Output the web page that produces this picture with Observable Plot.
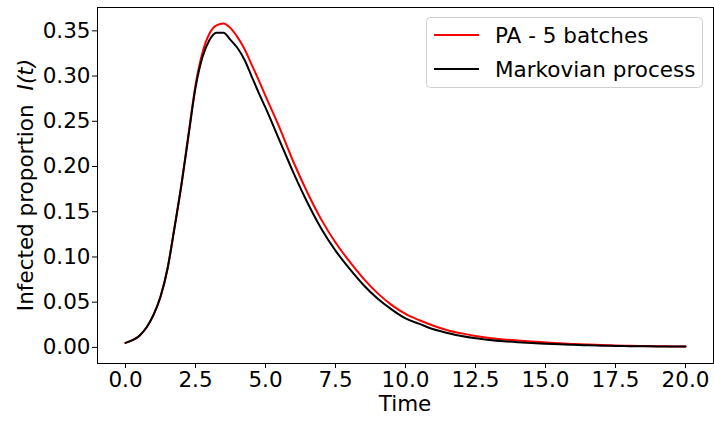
<!DOCTYPE html>
<html>
<head>
<meta charset="utf-8">
<script src="https://cdn.jsdelivr.net/npm/d3@7"></script>
<script src="https://cdn.jsdelivr.net/npm/@observablehq/plot@0.6"></script>
<style>
  html, body { margin: 0; padding: 0; background: #fff; }
  #chart { width: 714px; height: 422px; }
</style>
</head>
<body>
<div id="chart"></div>
<script>
// ---- data ----
const times = [0, 0.25, 0.5, 0.75, 1.0, 1.25, 1.5, 1.75, 2.0, 2.25, 2.5, 2.75, 3.0, 3.25, 3.5, 3.75, 4.0, 4.25, 4.5, 4.75,
  5.0, 5.5, 6.0, 6.5, 7.0, 7.5, 8.0, 8.5, 9.0, 9.5, 10.0, 10.5, 11.0, 11.5, 12.0, 12.5, 13.0, 13.5, 14.0, 14.5,
  15.0, 15.5, 16.0, 16.5, 17.0, 17.5, 18.0, 18.5, 19.0, 19.5, 20.0];
const paValues = [0.005, 0.008, 0.013, 0.022, 0.036, 0.056, 0.087, 0.133, 0.181, 0.236, 0.290, 0.326, 0.347, 0.356, 0.358, 0.353, 0.343, 0.330, 0.313, 0.296,
  0.278, 0.243, 0.205, 0.171, 0.141, 0.116, 0.095, 0.076, 0.060, 0.047, 0.037, 0.030, 0.024, 0.019, 0.0155, 0.0127, 0.0105, 0.0088, 0.0075, 0.0064,
  0.0055, 0.0046, 0.0038, 0.0031, 0.0026, 0.0021, 0.0018, 0.0015, 0.0013, 0.0011, 0.0010];
const markovValues = [0.005, 0.008, 0.013, 0.022, 0.036, 0.056, 0.087, 0.132, 0.180, 0.234, 0.287, 0.321, 0.340, 0.348, 0.348, 0.340, 0.331, 0.318, 0.300, 0.282,
  0.265, 0.229, 0.193, 0.160, 0.131, 0.107, 0.087, 0.069, 0.054, 0.042, 0.032, 0.026, 0.020, 0.016, 0.0125, 0.0100, 0.0082, 0.0068, 0.0057, 0.0048,
  0.0041, 0.0034, 0.0028, 0.0023, 0.0019, 0.0016, 0.0014, 0.0012, 0.0011, 0.0010, 0.0009];
const seriesNames = ["PA - 5 batches", "Markovian process"];
const seriesColors = ["#ff0000", "#000000"];
const xTicks = [0, 2.5, 5, 7.5, 10, 12.5, 15, 17.5, 20];
const yTicks = [0, 0.05, 0.10, 0.15, 0.20, 0.25, 0.30, 0.35];
const xLabel = "Time";
const yLabelMain = "Infected proportion";
const yLabelMath = "I(t)";

// ---- table for Plot ----
const rows = [];
[paValues, markovValues].forEach((vals, k) => {
  vals.forEach((v, i) => rows.push({t: times[i], v, series: seriesNames[k]}));
});

const font = "DejaVu Sans, Liberation Sans, sans-serif";
const FS = 21.5;
const W = 714, H = 422;
const chart = Plot.plot({
  width: W, height: H,
  marginLeft: 97, marginRight: 1, marginTop: 7, marginBottom: 59,
  style: {fontFamily: font, fontSize: FS + "px", color: "#000", background: "#fff", overflow: "visible"},
  x: {domain: [-1, 21]},
  y: {domain: [-0.0178, 0.3758]},
  color: {domain: seriesNames, range: seriesColors},
  marks: [
    Plot.line(rows, {x: "t", y: "v", z: "series", stroke: "series", strokeWidth: 2, curve: "monotone-x"}),
    Plot.frame({stroke: "#000", strokeWidth: 1}),
    Plot.axisX({ticks: xTicks, tickFormat: d => d.toFixed(1), tickSize: 5, tickPadding: 3, label: null, fontSize: FS}),
    Plot.axisY({ticks: yTicks, tickFormat: d => d.toFixed(2), tickSize: 5, tickPadding: 2, label: null, fontSize: FS})
  ]
});
document.getElementById("chart").appendChild(chart);

// ---- axis titles and legend ----
const svg = d3.select(chart);
const xs = chart.scale("x"), ys = chart.scale("y");
svg.append("text")
  .attr("x", xs.apply(10)).attr("y", 411)
  .attr("text-anchor", "middle")
  .style("font-family", font).style("font-size", FS + "px").attr("fill", "#000")
  .text(xLabel);
const yl = svg.append("text")
  .attr("transform", `translate(33,${(ys.apply(ys.domain[0]) + ys.apply(ys.domain[1])) / 2}) rotate(-90)`)
  .attr("text-anchor", "middle")
  .style("font-family", font).style("font-size", FS + "px").attr("fill", "#000");
yl.append("tspan").text(yLabelMain);
yl.append("tspan").attr("dx", 14).text(yLabelMath).style("font-style", "italic");

const lg = svg.append("g").attr("text-anchor", "start");
lg.append("rect")
  .attr("x", 426.5).attr("y", 17.5).attr("width", 276).attr("height", 70).attr("rx", 4)
  .attr("fill", "#fff").attr("fill-opacity", 0.8).attr("stroke", "#d0d0d0").attr("stroke-width", 1);
seriesNames.forEach((name, i) => {
  const cy = 35 + i * 34;
  lg.append("line").attr("x1", 434).attr("x2", 479).attr("y1", cy).attr("y2", cy)
    .attr("stroke", seriesColors[i]).attr("stroke-width", 2);
  lg.append("text").attr("x", 495).attr("y", cy + 8)
    .attr("text-anchor", "start")
    .style("font-family", font).style("font-size", FS + "px").attr("fill", "#000")
    .text(name);
});
</script>
</body>
</html>
